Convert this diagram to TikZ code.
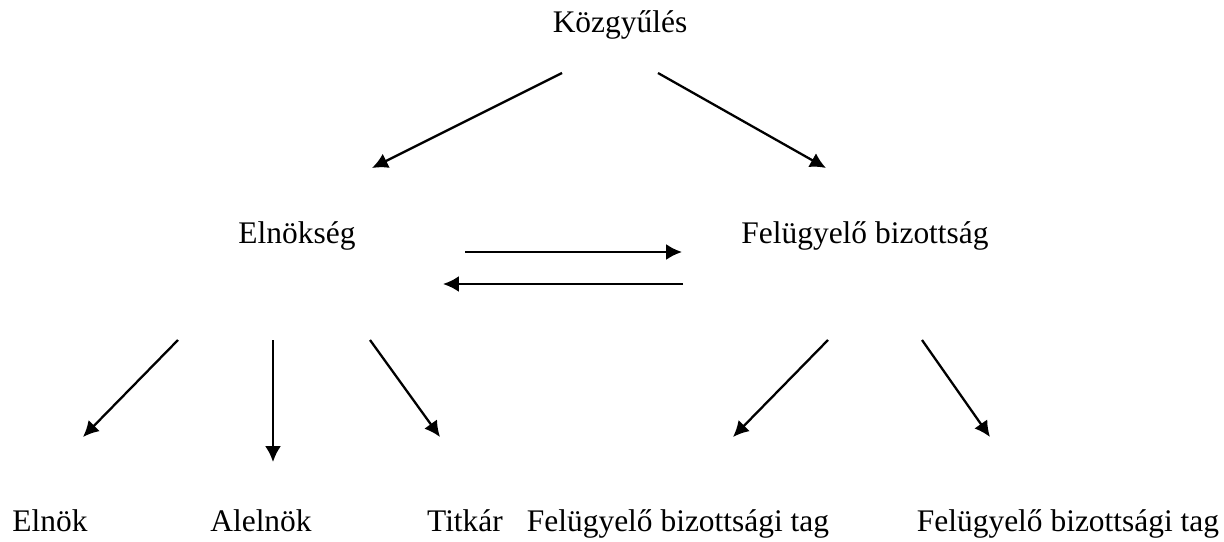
\documentclass[tikz,border=0pt]{standalone}
\usepackage{fontspec}
\setmainfont{Liberation Serif}
\usetikzlibrary{arrows.meta, positioning}
\tikzstyle{label} = [inner sep=0pt, anchor=base, font=\fontsize{17.9}{21}\selectfont]
\tikzstyle{line} = [draw, line width=1.3pt, -{Latex[length=9pt, width=9pt]}]

\begin{document}
\begin{tikzpicture}[x=0.02cm, y=-0.02cm]
    \useasboundingbox (0,0) rectangle (1224,541);
    % Nodes
    \node [label] (kozgyules) at (620,32) {Közgyűlés};
    \node [label] (elnokseg) at (297,243) {Elnökség};
    \node [label] (felugyelo) at (865,243) {Felügyelő bizottság};
    \node [label] (elnok) at (50,531) {Elnök};
    \node [label] (alelnok) at (261,531) {Alelnök};
    \node [label] (titkar) at (465,531) {Titkár};
    \node [label] (tagA) at (678,531) {Felügyelő bizottsági tag};
    \node [label] (tagB) at (1068,531) {Felügyelő bizottsági tag};

    % Arrow ends
    \coordinate (k1) at (562,73);  \coordinate (k1e) at (372,168);
    \coordinate (k2) at (658,73);  \coordinate (k2e) at (826,168);
    \coordinate (h1) at (465,252); \coordinate (h1e) at (682,252);
    \coordinate (h2) at (683,284); \coordinate (h2e) at (443,284);
    \coordinate (e1) at (178,340); \coordinate (e1e) at (83,437);
    \coordinate (e2) at (273,340); \coordinate (e2e) at (273,462);
    \coordinate (e3) at (370,340); \coordinate (e3e) at (440,437);
    \coordinate (f1) at (828,340); \coordinate (f1e) at (733,437);
    \coordinate (f2) at (922,340); \coordinate (f2e) at (990,437);

    % Lines
    \path [line] (k1) -- (k1e);
    \path [line] (k2) -- (k2e);
    \path [line] (h1) -- (h1e);
    \path [line] (h2) -- (h2e);
    \path [line] (e1) -- (e1e);
    \path [line] (e2) -- (e2e);
    \path [line] (e3) -- (e3e);
    \path [line] (f1) -- (f1e);
    \path [line] (f2) -- (f2e);

\end{tikzpicture}
\end{document}
